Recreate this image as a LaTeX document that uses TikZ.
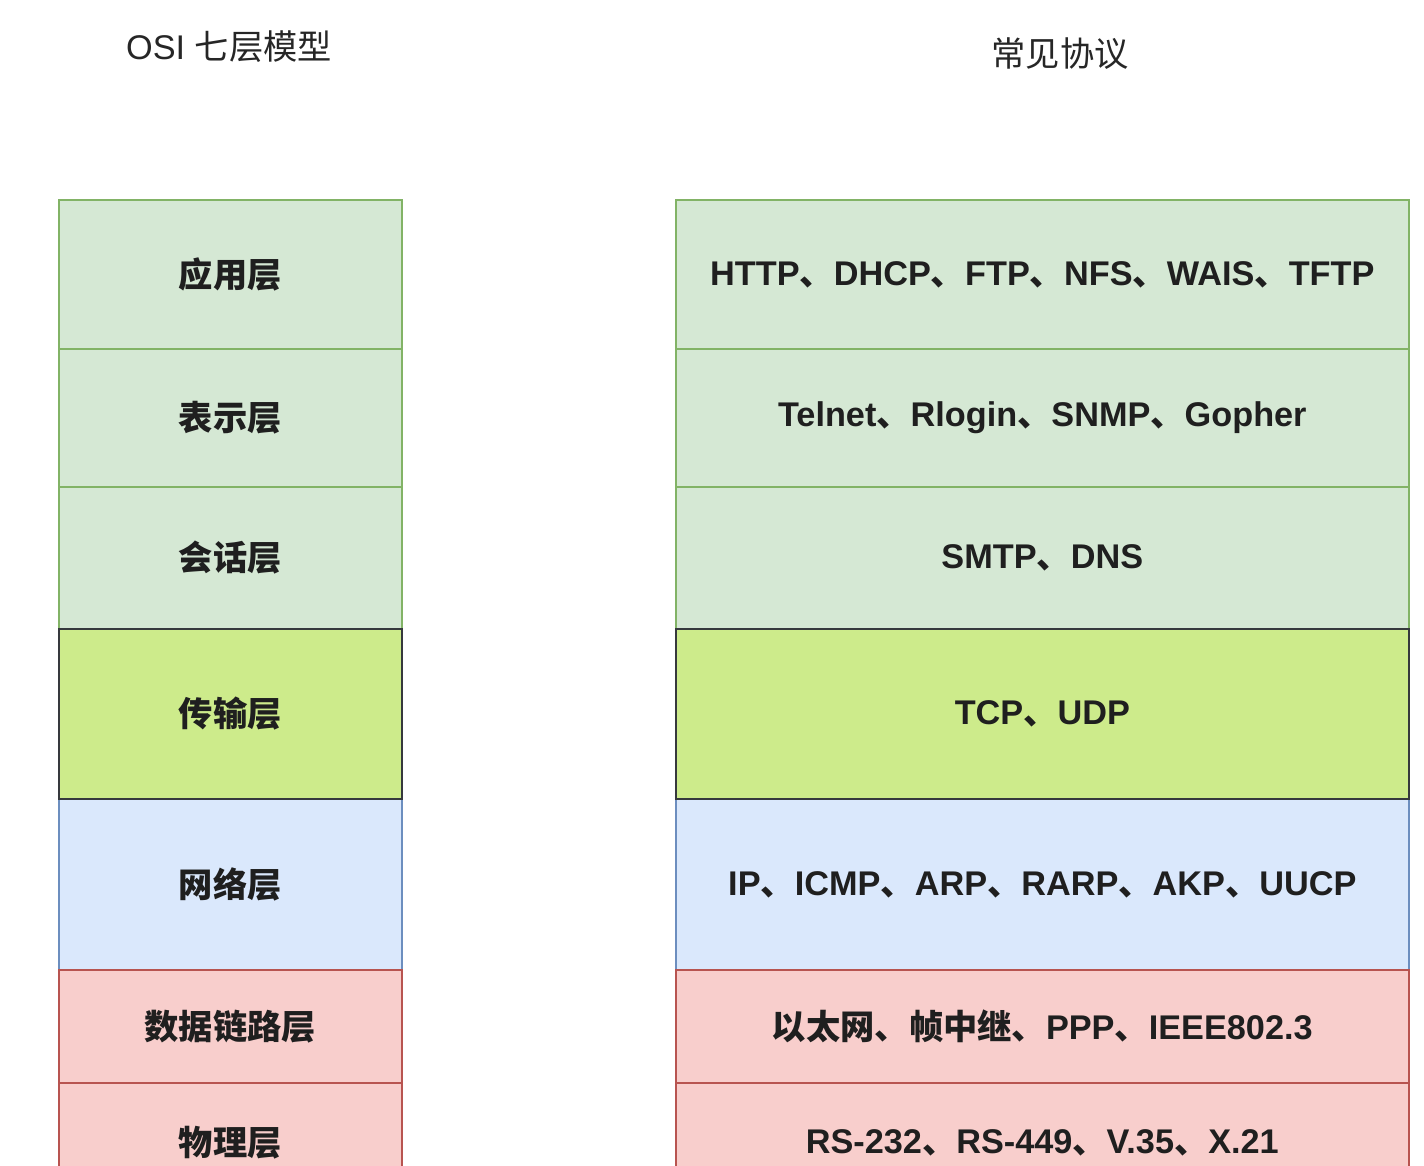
\documentclass[tikz,border=0pt]{standalone}
\usepackage{fontspec}
\usepackage{xcolor}
\usepackage{tikz}
\setmainfont{Liberation Sans}
\newfontfamily\cjk{Noto Sans CJK SC}
\newcommand{\dun}{{\cjk 、}}

\definecolor{appfill}{HTML}{D5E8D4}
\definecolor{appline}{HTML}{82B366}
\definecolor{tcpfill}{HTML}{CDEB8B}
\definecolor{tcpline}{HTML}{36393D}
\definecolor{netfill}{HTML}{DAE8FC}
\definecolor{netline}{HTML}{6C8EBF}
\definecolor{linkfill}{HTML}{F8CECC}
\definecolor{linkline}{HTML}{B85450}

\begin{document}
\begin{tikzpicture}[x=0.02cm,y=-0.02cm,
    cell/.style={rectangle,anchor=north west,line width=1pt,inner sep=0pt,
      text=black!88,font=\fontsize{19.5}{22}\selectfont\bfseries},
    osi/.style={cell,minimum width=6.86cm},
    proto/.style={cell,minimum width=14.66cm},
    green/.style={fill=appfill,draw=appline},
    lime/.style={fill=tcpfill,draw=tcpline},
    blue/.style={fill=netfill,draw=netline},
    red/.style={fill=linkfill,draw=linkline},
    title/.style={text=black!85,font=\fontsize{19.5}{22}\selectfont}]
        \clip (0,0) rectangle (1424,1166);
        \useasboundingbox (0,0) rectangle (1424,1166);
        % Titles
        \node[title] (t1) at (229,47) {OSI {\cjk 七层模型}};
        \node[title] (t2) at (1060,54) {\cjk 常见协议};
        % OSI layers
        \node[osi,green,minimum height=2.98cm] (L7) at (58,199) {\cjk 应用层};
        \node[osi,green,minimum height=2.76cm] (L6) at (58,348) {\cjk 表示层};
        \node[osi,green,minimum height=2.84cm] (L5) at (58,486) {\cjk 会话层};
        \node[osi,blue,minimum height=3.42cm] (L3) at (58,798) {\cjk 网络层};
        \node[osi,red,minimum height=2.26cm] (L2) at (58,969) {\cjk 数据链路层};
        \node[osi,red,minimum height=2.40cm] (L1) at (58,1082) {\cjk 物理层};
        \node[osi,lime,minimum height=3.40cm] (L4) at (58,628) {\cjk 传输层};
        % Protocols
        \node[proto,green,minimum height=2.98cm] (P7) at (675,199) {HTTP\dun DHCP\dun FTP\dun NFS\dun WAIS\dun TFTP};
        \node[proto,green,minimum height=2.76cm] (P6) at (675,348) {Telnet\dun Rlogin\dun SNMP\dun Gopher};
        \node[proto,green,minimum height=2.84cm] (P5) at (675,486) {SMTP\dun DNS};
        \node[proto,blue,minimum height=3.42cm] (P3) at (675,798) {IP\dun ICMP\dun ARP\dun RARP\dun AKP\dun UUCP};
        \node[proto,red,minimum height=2.26cm] (P2) at (675,969) {{\cjk 以太网、帧中继、}PPP\dun IEEE802.3};
        \node[proto,red,minimum height=2.40cm] (P1) at (675,1082) {RS-232\dun RS-449\dun V.35\dun X.21};
        \node[proto,lime,minimum height=3.40cm] (P4) at (675,628) {TCP\dun UDP};
\end{tikzpicture}
\end{document}
